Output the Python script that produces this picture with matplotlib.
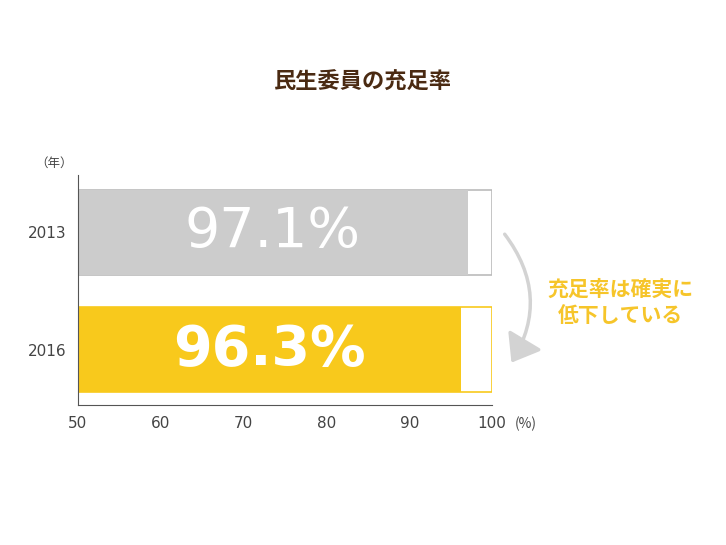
import matplotlib
matplotlib.use("Agg")
import matplotlib.pyplot as plt
from matplotlib.patches import FancyArrowPatch

plt.rcParams['font.family'] = ['Noto Sans CJK JP', 'DejaVu Sans']

years = ["2013", "2016"]
values = [97.1, 96.3]
labels = ["97.1%", "96.3%"]
fill_colors = ["#cccccc", "#f8c91c"]
edge_colors = ["#bbbbbb", "#f8c91c"]
xticks = [50, 60, 70, 80, 90, 100]

fig = plt.figure(figsize=(7.26, 5.45), dpi=100)
ax = fig.add_axes([78/726, 1-405/545, 414/726, 230/545])
pos = [1, 0]
h = 0.726
for p, v, fc, ec, lab, w in zip(pos, values, fill_colors, edge_colors, labels, ["normal", "bold"]):
    ax.barh(p, 100-50, left=50, height=h, color="white", edgecolor=ec, linewidth=1.2)
    ax.barh(p, v-50, left=50, height=h, color=fc, edgecolor="none")
    ax.text((50+v)/2, p, lab, color="white", fontsize=40, fontweight=w, ha="center", va="center",
            family=['DejaVu Sans'])
ax.set_xlim(50, 100)
ax.set_ylim(-0.474, 1.491)
ax.set_yticks(pos)
ax.set_yticklabels(years, family=['DejaVu Sans'])
ax.set_xticks(xticks)
ax.set_xticklabels([str(t) for t in xticks], family=['DejaVu Sans'])
ax.tick_params(length=0, labelsize=11, colors="#444444", pad=8)
for s in ["top", "right"]:
    ax.spines[s].set_visible(False)
for s in ["left", "bottom"]:
    ax.spines[s].set_color("#555555")
fig.text(515/726, 1-424/545, "(%)", fontsize=10, color="#444444", va="center")
fig.text(35/726, 1-163/545, "（年）", fontsize=9, color="#444444", va="center")
fig.text(0.5, 1-82/545, "民生委員の充足率", fontsize=16, fontweight="bold", color="#4a2a12", ha="center", va="center")

arr = FancyArrowPatch((503/726, 1-232/545), (510/726, 1-365/545), transform=fig.transFigure,
                      connectionstyle="arc3,rad=-0.35", arrowstyle="-|>,head_width=6,head_length=8",
                      color="#d3d3d3", lw=2.5, mutation_scale=2)
fig.patches.append(arr)
fig.text(620/726, 1-302/545, "充足率は確実に\n低下している", fontsize=15, fontweight="bold",
         color="#f6c52a", ha="center", va="center", linespacing=1.3)
fig.savefig("out.png", dpi=100)
